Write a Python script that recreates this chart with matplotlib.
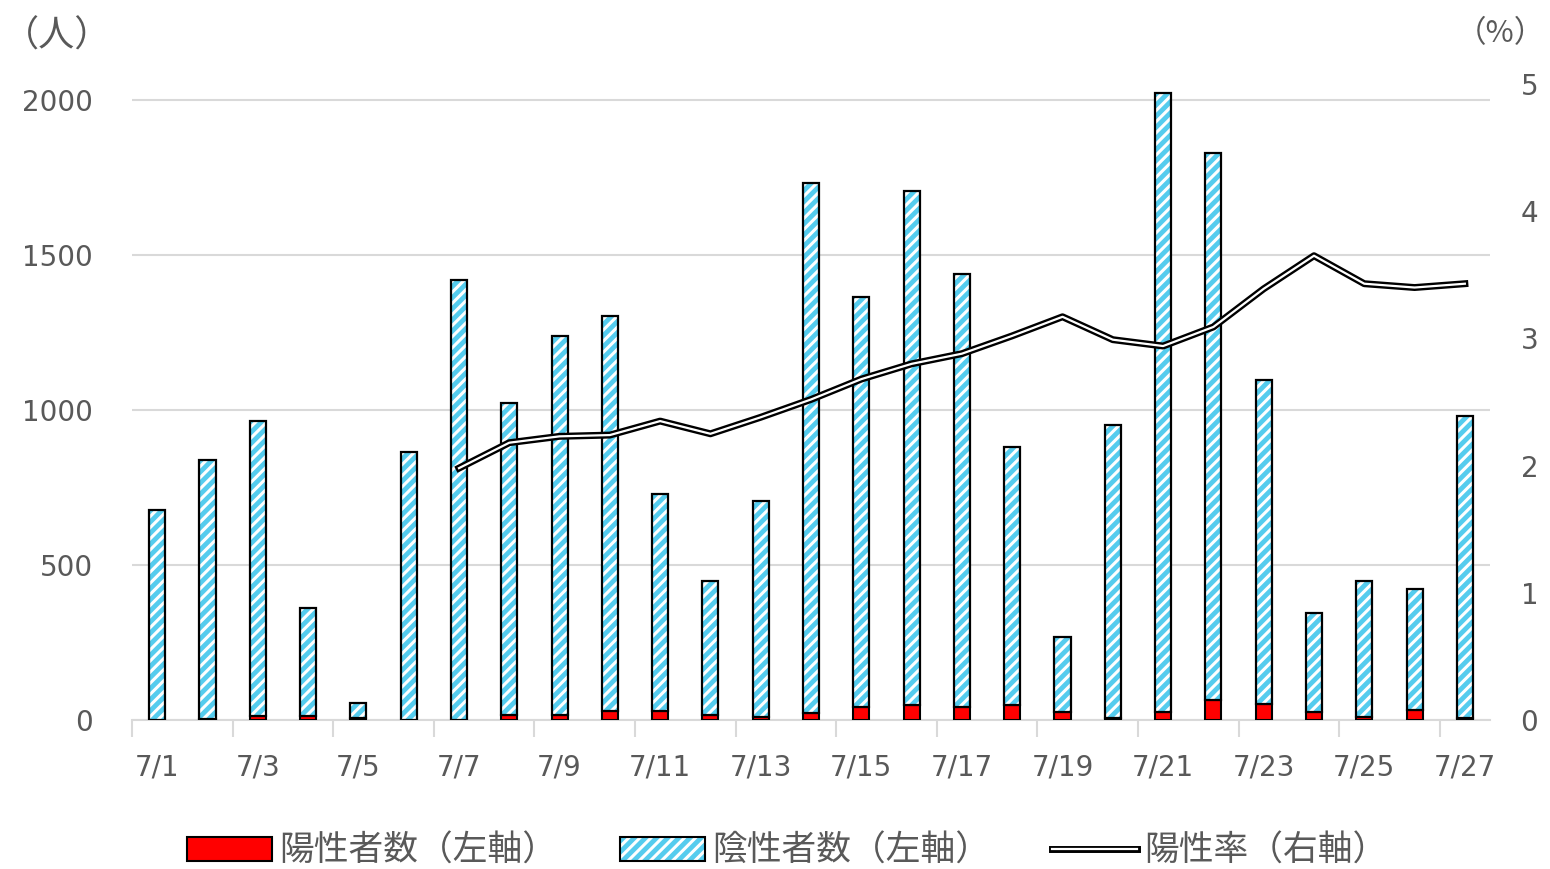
import matplotlib
matplotlib.use("Agg")
import matplotlib.pyplot as plt
import matplotlib.patheffects as pe
from matplotlib.patches import Patch
from matplotlib.legend_handler import HandlerTuple
import numpy as np

plt.rcParams['font.family'] = ['Noto Sans CJK JP', 'DejaVu Sans']
plt.rcParams['hatch.linewidth'] = 2.2

dates = [f"7/{d}" for d in range(1, 28)]
positive = [0, 2, 13, 12, 5, 0, 1, 16, 16, 29, 30, 16, 10, 22, 42, 48, 42, 48, 27, 5, 26, 64, 53, 26, 8, 31, 6]
total = [677, 839, 965, 361, 55, 865, 1419, 1023, 1239, 1303, 729, 448, 706, 1732, 1365, 1706, 1439, 881,
         268, 952, 2023, 1829, 1097, 345, 448, 423, 981]
negative = [t - p for t, p in zip(total, positive)]
rate_dates = dates[6:]
rate = [1.98, 2.18, 2.23, 2.24, 2.35, 2.25, 2.38, 2.52, 2.68, 2.80, 2.88, 3.02, 3.17, 2.99, 2.94, 3.09,
        3.39, 3.65, 3.43, 3.40, 3.43]
legend_labels = ['陽性者数（左軸）', '陰性者数（左軸）', '陽性率（右軸）']

grey = '#595959'
red = '#ff0000'
cyan = '#55ccee'
HATCH = '///'

fig = plt.figure(figsize=(15.5, 8.69), dpi=100)
ax = fig.add_axes([0.0852, 0.1715, 0.8761, 0.7318])
ax2 = ax.twinx()

x = np.arange(len(dates))
w = 0.32
ax.bar(x, positive, w, color=red, edgecolor='black', linewidth=1.5, zorder=3)
ax.bar(x, negative, w, bottom=positive, color=cyan, edgecolor='white', hatch=HATCH, linewidth=0, zorder=3)
ax.bar(x, negative, w, bottom=positive, fill=False, edgecolor='black', linewidth=1.6, zorder=4)

num_font = dict(family='DejaVu Sans', size=20)

ax.set_ylim(0, 2052)
ax.set_xlim(-0.5, len(dates) - 0.5)
ax.set_yticks([0, 500, 1000, 1500, 2000])
ax.set_yticklabels(['0', '500', '1000', '1500', '2000'], fontdict=num_font)
ax.grid(axis='y', color='#d9d9d9', linewidth=1.5, zorder=0)
ax.set_axisbelow(True)
ax.set_xticks(x[::2])
ax.set_xticklabels(dates[::2], fontdict=num_font)
ax.set_xticks(np.arange(-0.5, len(dates) - 1, 2), minor=True)
ax.tick_params(axis='x', which='major', length=0, pad=24, labelcolor=grey)
ax.tick_params(axis='x', which='minor', length=12, width=1.5, color='#d9d9d9')
ax.tick_params(axis='y', length=0, pad=28, labelcolor=grey)
for s in ['left', 'right', 'top']:
    ax.spines[s].set_visible(False)
    ax2.spines[s].set_visible(False)
ax.spines['bottom'].set_color('#d9d9d9')
ax.spines['bottom'].set_linewidth(1.5)
ax2.spines['bottom'].set_visible(False)

xr = [dates.index(d) for d in rate_dates]
line, = ax2.plot(xr, rate, color='white', linewidth=1.6, zorder=5,
                 path_effects=[pe.Stroke(linewidth=5, foreground='black'), pe.Normal()])
ax2.set_ylim(0, 5)
ax2.set_yticks([0, 1, 2, 3, 4, 5])
ax2.set_yticklabels(['0', '1', '2', '3', '4', '5'], fontdict=num_font)
ax2.tick_params(axis='y', length=0, pad=22, labelcolor=grey)

fig.text(0.037, 0.958, '（人）', fontsize=26, color=grey, ha='center', va='center')
fig.text(0.968, 0.961, '（%）', fontsize=22, color=grey, ha='center', va='center',
         family=['Noto Sans CJK JP', 'DejaVu Sans'])

h_red = Patch(facecolor=red, edgecolor='black', linewidth=1.5)
h_blue_fill = Patch(facecolor=cyan, edgecolor='white', hatch=HATCH, linewidth=0)
h_blue_edge = Patch(fill=False, edgecolor='black', linewidth=1.5)
fig.legend([h_red, (h_blue_fill, h_blue_edge), line], legend_labels,
           handler_map={tuple: HandlerTuple(ndivide=1, pad=0)},
           loc='center', bbox_to_anchor=(0.508, 0.02), ncol=3, frameon=False,
           fontsize=25, labelcolor=grey, handlelength=2.45, handleheight=0.65,
           handletextpad=0.2, columnspacing=1.8, borderpad=0.1)

fig.savefig('out.png', dpi=100)
